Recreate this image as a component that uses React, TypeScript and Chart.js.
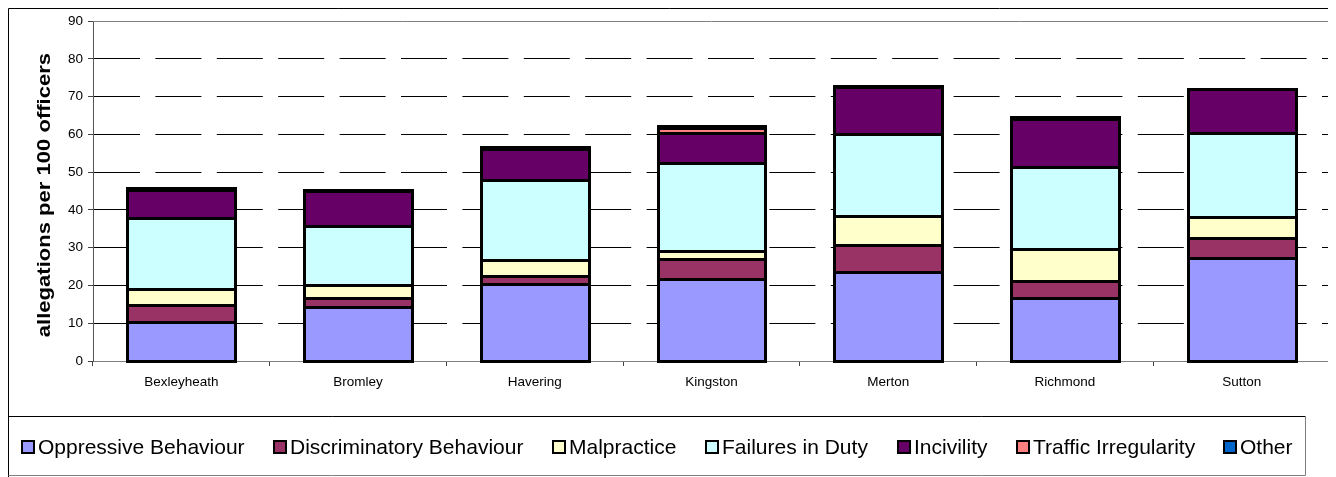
import React, { useEffect, useRef } from "react";
import { Chart, registerables } from "chart.js";

Chart.register(...registerables);

const categories = ["Bexleyheath", "Bromley", "Havering", "Kingston", "Merton", "Richmond", "Sutton"];
const seriesNames = [
  "Oppressive Behaviour",
  "Discriminatory Behaviour",
  "Malpractice",
  "Failures in Duty",
  "Incivility",
  "Traffic Irregularity",
  "Other",
];
const oppressive = [10.3, 14.3, 20.3, 21.6, 23.6, 16.7, 27.2];
const discriminatory = [4.4, 2.5, 2.1, 5.4, 7.1, 4.6, 5.5];
const malpractice = [4.4, 3.4, 4.4, 2.0, 7.7, 8.4, 5.3];
const failures = [18.7, 15.6, 21.1, 23.3, 21.7, 21.7, 22.5];
const incivility = [7.4, 9.2, 8.2, 8.0, 12.5, 12.6, 11.5];
const traffic = [0.2, 0.1, 0.1, 1.3, 0.1, 0.1, 0.0];
const other = [0.5, 0.1, 0.5, 0.5, 0.2, 0.4, 0.1];
const seriesColors = ["#9999FF", "#993366", "#FFFFCC", "#CCFFFF", "#660066", "#FF8080", "#0066CC"];
const yMin = 0;
const yMax = 90;
const yStep = 10;
const yTitle = "allegations per 100 officers";

const FONT = "'Liberation Sans', Arial, sans-serif";
const W = 1324;
const H = 469;

// Excel-like outlines: 3px black stroke centred on each bar segment's edges
const outlinePlugin = {
  id: "outline",
  afterDatasetsDraw(chart: any) {
    const ctx = chart.ctx;
    ctx.save();
    ctx.strokeStyle = "#000000";
    ctx.lineWidth = 3;
    ctx.lineJoin = "miter";
    chart.data.datasets.forEach((_d: any, di: number) => {
      const meta = chart.getDatasetMeta(di);
      meta.data.forEach((el: any, i: number) => {
        const v = chart.data.datasets[di].data[i];
        if (!v) return;
        const p = el.getProps(["x", "y", "base", "width"], true);
        const l = Math.round(p.x - p.width / 2) + 0.5;
        const r = Math.round(p.x + p.width / 2) + 0.5;
        const t = Math.round(Math.min(p.y, p.base)) + 0.5;
        const b = Math.round(Math.max(p.y, p.base)) + 0.5;
        ctx.strokeRect(l, t, r - l, Math.max(b - t, 0.01));
      });
    });
    ctx.restore();
  },
};

const framePlugin = {
  id: "frame",
  beforeDraw(chart: any) {
    const ctx = chart.ctx;
    ctx.save();
    ctx.fillStyle = "#ffffff";
    ctx.fillRect(0, 0, chart.width, chart.height);
    ctx.restore();
  },
  afterDraw(chart: any) {
    const ctx = chart.ctx;
    const a = chart.chartArea;
    ctx.save();
    // plot area top and right border
    ctx.lineWidth = 1;
    ctx.strokeStyle = "#808080";
    ctx.beginPath();
    ctx.moveTo(a.left, Math.round(a.top) + 0.5);
    ctx.lineTo(a.right, Math.round(a.top) + 0.5);
    ctx.stroke();
    ctx.strokeStyle = "#555555";
    ctx.beginPath();
    ctx.moveTo(Math.round(a.right) - 0.5, 0);
    ctx.lineTo(Math.round(a.right) - 0.5, chart.height);
    ctx.stroke();
    // outer border
    ctx.strokeStyle = "#000000";
    ctx.beginPath();
    ctx.moveTo(0.5, chart.height);
    ctx.lineTo(0.5, 0.5);
    ctx.lineTo(Math.round(a.right), 0.5);
    ctx.stroke();

    // y axis title (stretched text as in reference)
    ctx.save();
    ctx.translate(41.5, (a.top + a.bottom) / 2 + 4);
    ctx.rotate(-Math.PI / 2);
    ctx.scale(1.26, 1);
    ctx.font = `bold 17.5px ${FONT}`;
    ctx.fillStyle = "#000000";
    ctx.textAlign = "center";
    ctx.textBaseline = "alphabetic";
    ctx.fillText(yTitle, 0, 0);
    ctx.restore();

    // legend box
    const lx0 = 0.5;
    const ly0 = 408.5;
    const lx1 = 1297.5;
    const ly1 = 467.5;
    ctx.strokeStyle = "#000000";
    ctx.beginPath();
    ctx.moveTo(lx0, ly0);
    ctx.lineTo(lx1, ly0);
    ctx.stroke();
    ctx.strokeStyle = "#808080";
    ctx.beginPath();
    ctx.moveTo(lx1, ly0);
    ctx.lineTo(lx1, ly1);
    ctx.lineTo(lx0, ly1);
    ctx.stroke();

    // legend items
    ctx.font = `21px ${FONT}`;
    ctx.textBaseline = "middle";
    ctx.textAlign = "left";
    const ds = chart.data.datasets;
    const box = 14;
    const gapText = 3;
    const startX = 13;
    const endX = 1285;
    const widths = ds.map((d: any) => ctx.measureText(d.label).width);
    const total = widths.reduce((s: number, w: number) => s + w + box + gapText, 0);
    const gap = (endX - startX - total) / (ds.length - 1);
    const cy = 439;
    let x = startX;
    ds.forEach((d: any, i: number) => {
      const bx = Math.round(x);
      ctx.fillStyle = "#000000";
      ctx.fillRect(bx, cy - box / 2, box, box);
      ctx.fillStyle = d.backgroundColor;
      ctx.fillRect(bx + 2, cy - box / 2 + 2, box - 4, box - 4);
      ctx.fillStyle = "#000000";
      ctx.fillText(d.label, bx + box + gapText, cy + 1);
      x += box + gapText + widths[i] + gap;
    });
    ctx.restore();
  },
};

export default function App() {
  const ref = useRef<HTMLCanvasElement | null>(null);
  useEffect(() => {
    if (!ref.current) return;
    const values = [oppressive, discriminatory, malpractice, failures, incivility, traffic, other];
    const chart = new Chart(ref.current, {
      type: "bar",
      data: {
        labels: categories,
        datasets: values.map((v, i) => ({
          label: seriesNames[i],
          data: v,
          backgroundColor: seriesColors[i],
          borderWidth: 0,
          inflateAmount: 0.5,
          categoryPercentage: 1,
          barPercentage: 0.61,
        })),
      },
      options: {
        responsive: false,
        animation: false,
        devicePixelRatio: 1,
        layout: { padding: { top: 12, left: 0, right: 2, bottom: 75 } },
        plugins: {
          legend: { display: false },
          tooltip: { enabled: false },
          title: { display: false },
        },
        scales: {
          x: {
            stacked: true,
            afterFit: (s: any) => {
              s.height = 41;
            },
            grid: {
              display: true,
              drawOnChartArea: false,
              drawTicks: true,
              tickLength: 5,
              offset: true,
              tickColor: "#444444",
              tickWidth: 1,
            },
            border: { display: true, color: "#808080", width: 1 },
            ticks: {
              color: "#000000",
              font: { family: FONT, size: 13.5 },
              padding: 8,
              maxRotation: 0,
              autoSkip: false,
            },
          },
          y: {
            stacked: true,
            min: yMin,
            max: yMax,
            afterFit: (s: any) => {
              s.width = 85;
            },
            grid: {
              display: true,
              drawTicks: true,
              tickLength: 5,
              color: (c: any) =>
                c.tick && (c.tick.value === yMin || c.tick.value === yMax) ? "rgba(0,0,0,0)" : "#000000",
              lineWidth: 1,
              tickColor: "#444444",
              tickWidth: 1,
              tickBorderDash: [],
            },
            border: { display: true, color: "#555555", width: 1, dash: [46, 15.4], dashOffset: 0 },
            ticks: {
              stepSize: yStep,
              color: "#000000",
              font: { family: FONT, size: 13.5 },
              padding: 5,
            },
          },
        },
      },
      plugins: [outlinePlugin, framePlugin],
    });
    return () => chart.destroy();
  }, []);
  return (
    <div style={{ width: W, height: H }}>
      <canvas ref={ref} width={W} height={H} style={{ display: "block", width: W, height: H }} />
    </div>
  );
}
